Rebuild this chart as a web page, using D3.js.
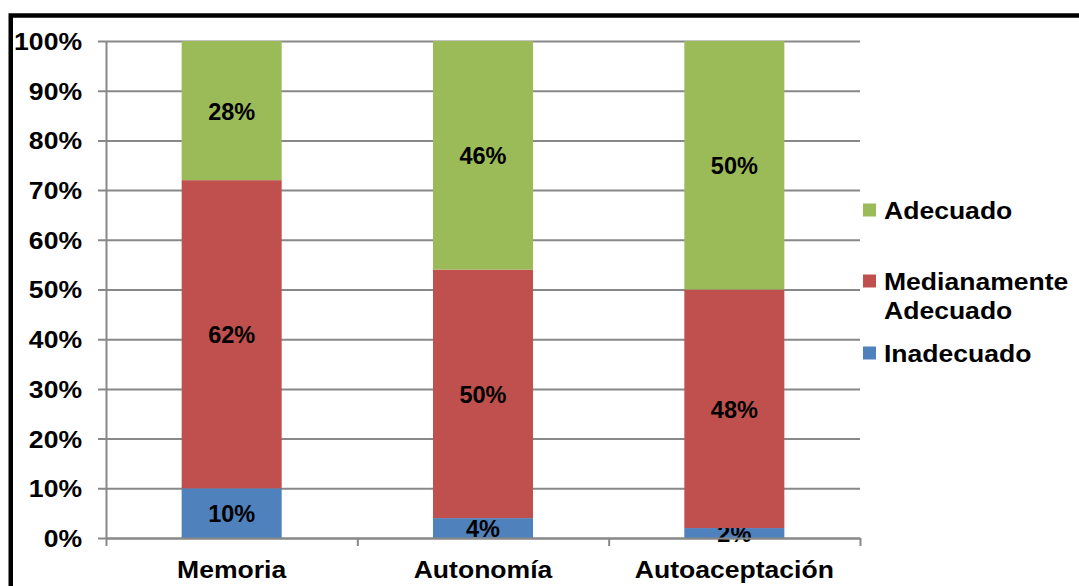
<!DOCTYPE html>
<html>
<head>
<meta charset="utf-8">
<script src="https://cdn.jsdelivr.net/npm/d3@7"></script>
<style>
  html, body { margin: 0; padding: 0; background: #fff; }
  svg { display: block; }
  text { font-family: "Liberation Sans", Arial, sans-serif; font-weight: bold; fill: #000; }
</style>
</head>
<body>
<svg id="chart" width="1079" height="586"></svg>
<script>
// Stacked 100% columns: share of each rating per dimension
const categories = ["Memoria", "Autonomía", "Autoaceptación"];
const seriesNames = ["Inadecuado", "Medianamente Adecuado", "Adecuado"];
const inadecuado = [10, 4, 2];
const medianamente = [62, 50, 48];
const adecuado = [28, 46, 50];
const yTicks = [0, 10, 20, 30, 40, 50, 60, 70, 80, 90, 100];
const colors = ["#4F81BD", "#C0504D", "#9BBB59"];

const svg = d3.select("#chart");
const TX = 1.13;      // horizontal stretch of the Arial-style text
const FS = "23.5px";  // axis and legend font size

const plotL = 106, plotR = 860, plotT = 41, plotB = 538;

const rows = categories.map((c, i) => ({
  cat: c,
  "Inadecuado": inadecuado[i],
  "Medianamente Adecuado": medianamente[i],
  "Adecuado": adecuado[i]
}));
const stacked = d3.stack().keys(seriesNames)(rows);

const x = d3.scaleBand().domain(categories).range([plotL, plotR]).padding(0);
const xEdge = d3.scaleLinear().domain([0, categories.length]).range([plotL, plotR]);
const y = d3.scaleLinear().domain([0, 100]).range([plotB, plotT]);
const color = d3.scaleOrdinal().domain(seriesNames).range(colors);
const barW = x.bandwidth() * 0.398;

// horizontal gridlines (behind the bars), extended out as tick marks
svg.append("g")
  .attr("transform", `translate(${plotL},0)`)
  .call(d3.axisLeft(y).tickValues(yTicks).tickSize(-(plotR - plotL)).tickFormat(""))
  .call(g => g.select(".domain").remove())
  .call(g => g.selectAll("line").attr("stroke", "#888").attr("stroke-width", 2).attr("x1", -8));

// bars
const layers = svg.append("g").selectAll("g").data(stacked).join("g")
  .attr("fill", d => color(d.key));
layers.selectAll("rect").data(d => d).join("rect")
  .attr("x", d => x(d.data.cat) + (x.bandwidth() - barW) / 2)
  .attr("width", barW)
  .attr("y", d => y(d[1]))
  .attr("height", d => y(d[0]) - y(d[1]));

// value labels centred in each segment
layers.selectAll("text").data(d => d.map(v => ({ v, key: d.key }))).join("text")
  .attr("text-anchor", "middle")
  .attr("dominant-baseline", "central")
  .attr("fill", "#000")
  .style("font-size", "23.5px")
  .attr("transform", d => `translate(${x(d.v.data.cat) + x.bandwidth() / 2},${(y(d.v[0]) + y(d.v[1])) / 2 + 1})`)
  .text(d => d.v.data[d.key] + "%");

// y axis with percentage labels
const yAxis = svg.append("g")
  .attr("transform", `translate(${plotL},0)`)
  .call(d3.axisLeft(y).tickValues(yTicks).tickSize(0).tickPadding(24).tickFormat(d => d + "%"));
yAxis.select(".domain").attr("stroke", "#888").attr("stroke-width", 2);
yAxis.selectAll("text")
  .style("font-size", FS)
  .style("font-family", "'Liberation Sans', Arial, sans-serif")
  .style("font-weight", "bold")
  .attr("x", -24 / TX)
  .attr("dy", "0.36em")
  .attr("transform", `scale(${TX},1)`);

// x axis line with ticks at category boundaries
const xAxis = svg.append("g")
  .attr("transform", `translate(0,${plotB})`)
  .call(d3.axisBottom(xEdge).tickValues(d3.range(categories.length + 1)).tickSize(8).tickSizeOuter(0).tickFormat(""));
xAxis.select(".domain").attr("stroke", "#888").attr("stroke-width", 2);
xAxis.selectAll("line").attr("stroke", "#888").attr("stroke-width", 2);

// category labels
svg.append("g").selectAll("text").data(categories).join("text")
  .attr("text-anchor", "middle")
  .style("font-size", FS)
  .attr("transform", d => `translate(${x(d) + x.bandwidth() / 2},578) scale(${TX},1)`)
  .text(d => d);

// legend (top entry first)
const legendItems = [
  { key: "Adecuado", lines: ["Adecuado"], cy: 210 },
  { key: "Medianamente Adecuado", lines: ["Medianamente", "Adecuado"], cy: 281 },
  { key: "Inadecuado", lines: ["Inadecuado"], cy: 353 }
];
const lg = svg.append("g").selectAll("g").data(legendItems).join("g");
lg.append("rect")
  .attr("x", 863).attr("y", d => d.cy - 6.5)
  .attr("width", 13).attr("height", 13)
  .attr("fill", d => color(d.key));
lg.append("text")
  .style("font-size", FS)
  .attr("transform", d => `translate(884,${d.cy + 8.5}) scale(${TX},1)`)
  .selectAll("tspan").data(d => d.lines).join("tspan")
  .attr("x", 0).attr("dy", (d, i) => i === 0 ? 0 : 30)
  .text(d => d);

// frame around the chart area
svg.append("path")
  .attr("d", "M10.75,600 L10.75,15.5 L1090,15.5")
  .attr("fill", "none")
  .attr("stroke", "#000")
  .attr("stroke-width", 4.5);
</script>
</body>
</html>
